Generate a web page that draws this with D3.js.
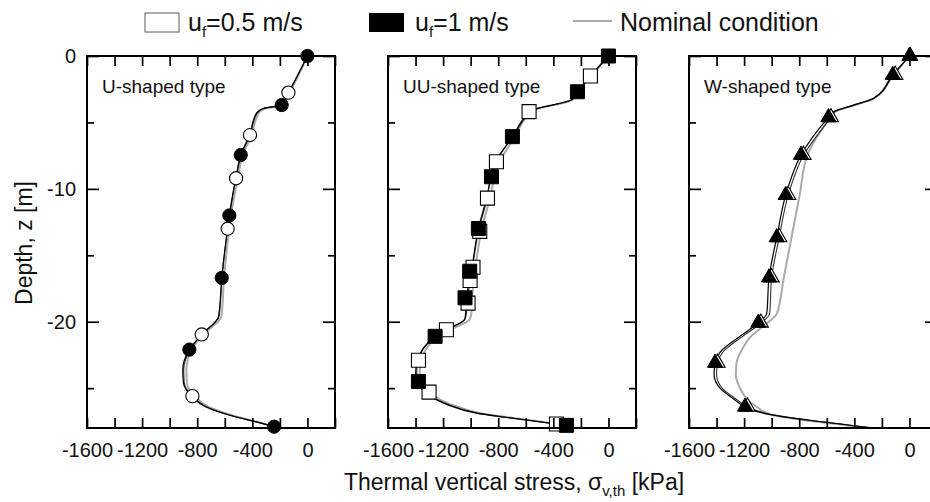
<!DOCTYPE html>
<html>
<head>
<meta charset="utf-8">
<script src="https://cdn.jsdelivr.net/npm/d3@7"></script>
<style>
  html, body { margin: 0; padding: 0; background: #fff; }
  svg { display: block; }
  text { font-family: "Liberation Sans", Arial, sans-serif; fill: #111; }
</style>
</head>
<body>
<svg id="chart" width="930" height="502"></svg>
<script>
// ---------------- DATA ----------------
const panelNames = ["U-shaped type", "UU-shaped type", "W-shaped type"];
const seriesNames = ["u_f=0.5 m/s", "u_f=1 m/s", "Nominal condition"];
const xTickLabels = [-1600, -1200, -800, -400, 0];
const yTickLabels = [0, -10, -20];

// Panel 1 (U-shaped): line profiles
const uDepth   = [0, -2.76, -3.69, -3.95, -4.3, -5.95, -7.45, -9.2, -12.0, -13.0, -16.7, -19.6, -20.96, -22.1, -23.6, -24.6, -25.6, -26.4, -27.1, -27.6, -27.9];
const uLine1   = [0, -138, -190, -320, -370, -420, -484, -520, -567, -580, -622, -645, -767, -857, -905, -900, -840, -740, -545, -350, -242];
const uLine05  = [0, -138, -187, -318, -365, -417, -480, -518, -565, -579, -620, -642, -767, -852, -898, -894, -835, -735, -540, -345, -240];
const uLineNom = [0, -130, -180, -310, -355, -405, -470, -505, -555, -568, -605, -625, -755, -840, -878, -875, -820, -720, -530, -340, -240];
// Panel 1 markers
const uMark1Depth   = [0, -3.69, -7.45, -12.0, -16.7, -22.1, -27.9];
const uMark1Stress  = [0, -187, -484, -567, -622, -857, -242];
const uMark05Depth  = [-2.76, -5.95, -9.2, -13.0, -20.96, -25.6];
const uMark05Stress = [-138, -417, -518, -579, -767, -835];

// Panel 2 (UU-shaped): line profiles
const uuDepth   = [0, -2.7, -3.3, -4.1, -4.45, -6.1, -7.5, -9.1, -10.7, -13.0, -16.2, -18.2, -19.3, -19.8, -20.6, -21.1, -22.0, -23.0, -23.8, -24.6, -25.4, -26.2, -26.9, -27.4, -27.8];
const uuLine1   = [0, -225, -269, -559, -595, -697, -789, -849, -885, -944, -995, -1030, -1036, -1043, -1176, -1258, -1345, -1389, -1399, -1385, -1320, -1180, -950, -600, -305];
const uuLine05  = [0, -222, -265, -560, -590, -695, -795, -855, -880, -940, -990, -1022, -1030, -1040, -1170, -1252, -1340, -1382, -1392, -1378, -1312, -1170, -940, -590, -300];
const uuLineNom = [0, -220, -262, -550, -585, -680, -765, -825, -860, -920, -968, -990, -994, -1005, -1150, -1235, -1320, -1360, -1370, -1355, -1290, -1150, -920, -580, -300];
// Panel 2 markers
const uuMark1Depth   = [0, -2.69, -6.07, -9.09, -12.98, -16.2, -18.2, -21.1, -24.5, -27.8];
const uuMark1Stress  = [0, -225, -697, -849, -944, -1007, -1041, -1258, -1379, -305];
const uuMark05Depth  = [-1.5, -4.19, -7.96, -10.7, -13.2, -15.9, -16.9, -18.6, -20.6, -22.9, -25.3, -27.7];
const uuMark05Stress = [-131, -576, -813, -878, -934, -983, -1004, -1019, -1176, -1379, -1302, -377];

// Panel 3 (W-shaped): line profiles
const wDepth   = [0, -1.43, -3.2, -3.7, -4.2, -4.62, -7.45, -10.47, -13.65, -16.67, -19.4, -20.08, -21.1, -22.3, -23.1, -24.0, -25.0, -25.8, -26.4, -27.0, -27.4, -28.0];
const wLine1   = [0, -121, -262, -407, -552, -588, -787, -898, -963, -1019, -1036, -1097, -1229, -1375, -1411, -1418, -1375, -1278, -1193, -1012, -745, -262];
const wLine05  = [0, -115, -258, -400, -540, -570, -768, -880, -945, -1000, -1015, -1075, -1210, -1355, -1392, -1400, -1360, -1262, -1175, -995, -730, -262];
const wLineNom = [0, -121, -262, -400, -545, -575, -740, -797, -856, -912, -963, -1030, -1150, -1225, -1255, -1260, -1230, -1181, -1110, -1000, -770, -280];
// Panel 3 markers
const wMark1Depth   = [0, -1.43, -4.62, -7.45, -10.47, -13.65, -16.67, -20.08, -23.1, -26.4];
const wMark1Stress  = [0, -121, -588, -787, -898, -963, -1019, -1097, -1411, -1193];
const wMark05Depth  = [0, -1.43, -4.62, -7.45, -10.47, -13.65, -16.67, -20.08, -23.1, -26.4];
const wMark05Stress = [5, -103, -570, -769, -880, -945, -1001, -1079, -1393, -1175];

// ---------------- BUILD ----------------
const panels = [
  { name: panelNames[0], depth: uDepth, lines: [uLine05, uLine1, uLineNom],
    m05: [uMark05Stress, uMark05Depth], m1: [uMark1Stress, uMark1Depth], shape: "circle" },
  { name: panelNames[1], depth: uuDepth, lines: [uuLine05, uuLine1, uuLineNom],
    m05: [uuMark05Stress, uuMark05Depth], m1: [uuMark1Stress, uuMark1Depth], shape: "square" },
  { name: panelNames[2], depth: wDepth, lines: [wLine05, wLine1, wLineNom],
    m05: [wMark05Stress, wMark05Depth], m1: [wMark1Stress, wMark1Depth], shape: "triangle" }
];

const svg = d3.select("#chart");
const PW = 248, PH = 372, topY = 56;
const lefts = [87, 388, 689];

const x = d3.scaleLinear().domain([-1600, 200]).range([0, PW]);
const y = d3.scaleLinear().domain([0, -28]).range([0, PH]);

const lineColors = ["#333", "#000", "#aaa"];
const lineWidths = [1.1, 1.2, 2];

const symbols = { circle: d3.symbolCircle, square: d3.symbolSquare, triangle: d3.symbolTriangle };
const symSizes = { circle: Math.PI * 6.6 * 6.6, square: 14 * 14, triangle: 100 };

const plainFmt = d => String(d);

panels.forEach((p, i) => {
  const g = svg.append("g").attr("transform", `translate(${lefts[i]},${topY})`);

  [2, 0, 1].forEach(k => {
    const pts = p.depth.map((d, j) => [p.lines[k][j], d]);
    g.append("path")
      .datum(pts)
      .attr("fill", "none")
      .attr("stroke", lineColors[k])
      .attr("stroke-width", lineWidths[k])
      .attr("d", d3.line().x(d => x(d[0])).y(d => y(d[1])).curve(d3.curveMonotoneY));
  });

  const sym = d3.symbol().type(symbols[p.shape]).size(symSizes[p.shape]);
  g.selectAll(".m05").data(p.m05[0].map((s, j) => [s, p.m05[1][j]]))
    .enter().append("path")
    .attr("transform", d => `translate(${x(d[0])},${y(d[1])})`)
    .attr("d", sym)
    .attr("fill", "#fff").attr("stroke", "#000").attr("stroke-width", 1.1);
  g.selectAll(".m1").data(p.m1[0].map((s, j) => [s, p.m1[1][j]]))
    .enter().append("path")
    .attr("transform", d => `translate(${x(d[0])},${y(d[1])})`)
    .attr("d", sym)
    .attr("fill", "#000").attr("stroke", "#000").attr("stroke-width", 1);

  const xMajor = xTickLabels;
  const xMinor = d3.range(-1400, 201, 400);
  const yMajor = yTickLabels;
  const yMinor = [-5, -15, -25];

  const styleAxis = sel => {
    sel.select(".domain").remove();
    sel.selectAll("line").attr("stroke", "#000").attr("stroke-width", 1.7);
    sel.selectAll("text").style("font-size", "20px").attr("fill", "#111");
  };

  g.append("g").attr("transform", `translate(0,${PH})`)
    .call(d3.axisBottom(x).tickValues(xMajor).tickSize(-10).tickPadding(15).tickFormat(plainFmt))
    .call(styleAxis);
  g.append("g").attr("transform", `translate(0,${PH})`)
    .call(d3.axisBottom(x).tickValues(xMinor).tickSize(-10).tickFormat(""))
    .call(styleAxis);
  g.append("g")
    .call(d3.axisTop(x).tickValues(xMajor.concat(xMinor)).tickSize(-10).tickFormat(""))
    .call(styleAxis);

  g.append("g")
    .call(d3.axisLeft(y).tickValues(yMajor).tickSize(-12).tickPadding(11)
      .tickFormat(i === 0 ? plainFmt : ""))
    .call(styleAxis);
  g.append("g")
    .call(d3.axisLeft(y).tickValues(yMinor).tickSize(-7).tickFormat(""))
    .call(styleAxis);
  g.append("g").attr("transform", `translate(${PW},0)`)
    .call(d3.axisRight(y).tickValues(yMajor).tickSize(-12).tickFormat(""))
    .call(styleAxis);
  g.append("g").attr("transform", `translate(${PW},0)`)
    .call(d3.axisRight(y).tickValues(yMinor).tickSize(-7).tickFormat(""))
    .call(styleAxis);

  g.append("rect").attr("x", 0).attr("y", 0).attr("width", PW).attr("height", PH)
    .attr("fill", "none").attr("stroke", "#000").attr("stroke-width", 2);

  g.append("text").attr("x", 15).attr("y", 37)
    .style("font-size", "19px").text(p.name);
});

svg.append("text")
  .attr("transform", "translate(32,243) rotate(-90)")
  .attr("text-anchor", "middle")
  .style("font-size", "23px")
  .text("Depth, z [m]");

const xt = svg.append("text")
  .attr("x", 514).attr("y", 490)
  .attr("text-anchor", "middle")
  .style("font-size", "23px");
xt.append("tspan").text("Thermal vertical stress, σ");
xt.append("tspan").attr("dy", 6).style("font-size", "15px").text("v,th");
xt.append("tspan").attr("dy", -6).text(" [kPa]");

const leg = svg.append("g");
leg.append("rect").attr("x", 145).attr("y", 13).attr("width", 34).attr("height", 19)
  .attr("fill", "#fff").attr("stroke", "#777").attr("stroke-width", 1.2);
const l1 = leg.append("text").attr("x", 188).attr("y", 31).style("font-size", "25px");
l1.append("tspan").text("u");
l1.append("tspan").attr("dy", 6).style("font-size", "15px").text("f");
l1.append("tspan").attr("dy", -6).text("=0.5 m/s");

leg.append("rect").attr("x", 369).attr("y", 13).attr("width", 35).attr("height", 19)
  .attr("fill", "#000");
const l2 = leg.append("text").attr("x", 415).attr("y", 31).style("font-size", "25px");
l2.append("tspan").text("u");
l2.append("tspan").attr("dy", 6).style("font-size", "15px").text("f");
l2.append("tspan").attr("dy", -6).text("=1 m/s");

leg.append("line").attr("x1", 573).attr("x2", 612).attr("y1", 21).attr("y2", 21)
  .attr("stroke", "#aaa").attr("stroke-width", 2);
leg.append("text").attr("x", 620).attr("y", 31).style("font-size", "25px").text(seriesNames[2]);
</script>
</body>
</html>
